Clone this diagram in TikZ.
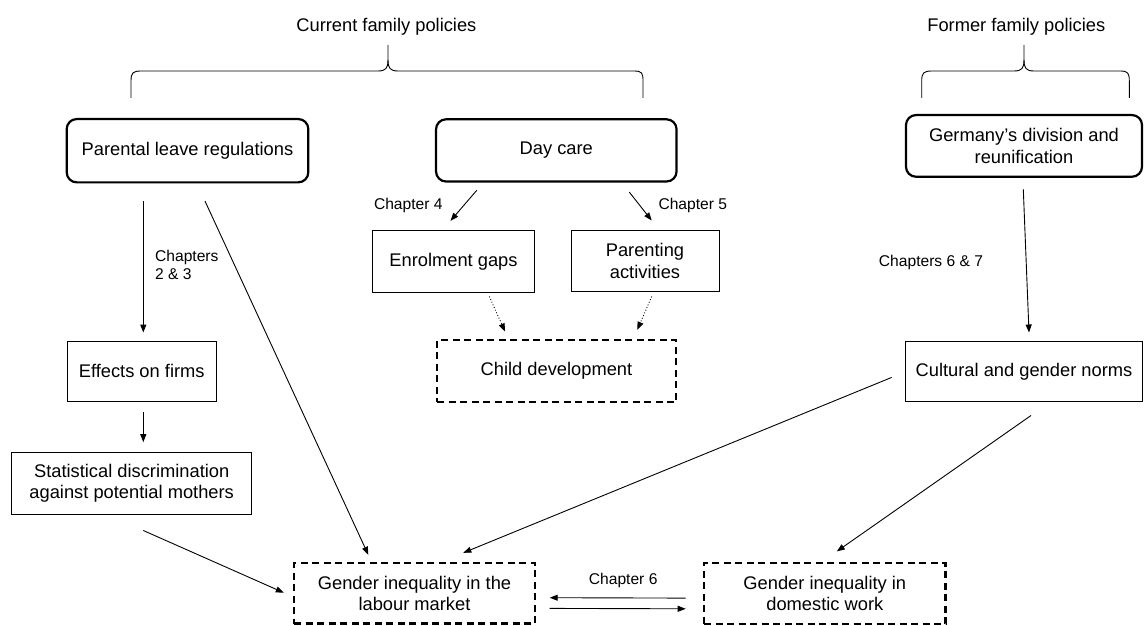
\documentclass[tikz,border=0pt]{standalone}
\usepackage{fontspec}
\setmainfont{Liberation Sans}
\usetikzlibrary{arrows.meta,calc}
\newcommand\mainfs{\fontsize{18.3}{21.5}\selectfont}
\newcommand\chapfs{\fontsize{15.6}{18}\selectfont}
\tikzset{
  base/.style={align=center, font=\mainfs, inner sep=0pt, text=black},
  rbox/.style={base, draw, line width=2.2pt, rounded corners=10pt},
  pbox/.style={base, draw, line width=1pt},
  dbox/.style={base, draw, line width=2.4pt, dash pattern=on 7pt off 4.5pt},
  arr/.style={line width=0.9pt, -{Triangle[length=8pt,width=6pt]}},
  darr/.style={arr, dotted},
  lbl/.style={font=\chapfs, inner sep=0pt, text=black},
  hdr/.style={font=\mainfs, inner sep=0pt, text=black},
  bracel/.style={line width=0.9pt}
}
\begin{document}
\begin{tikzpicture}[x=1pt,y=-1pt]
\useasboundingbox (0,0) rectangle (1144,626);

% headers
\node[hdr] (cur) at (386.4,26.5) {Current family policies};
\node[hdr] (for) at (1016.3,26.5) {Former family policies};

% braces
\draw[bracel] (131,98) -- (131,81) .. controls (131,73) and (133,71) .. (141,71) -- (378,71)
  .. controls (386,71) and (388,68) .. (388,60) -- (388,45);
\draw[bracel] (388,60) .. controls (388,68) and (390,71) .. (398,71) -- (634,71)
  .. controls (642,71) and (643,73) .. (643,81) -- (643,98);
\draw[bracel] (921.7,98) -- (921.7,81) .. controls (921.7,73) and (923.7,71) .. (931.7,71) -- (1014,71)
  .. controls (1022,71) and (1024,68) .. (1024,60) -- (1024,45);
\draw[bracel] (1024,60) .. controls (1024,68) and (1026,71) .. (1034,71) -- (1120,71)
  .. controls (1128,71) and (1129.3,73) .. (1129.3,81) -- (1129.3,98);

% nodes
\node[rbox, minimum width=241.6pt, minimum height=63.3pt] (plr) at (187.5,150.7) {Parental leave regulations};
\node[rbox, minimum width=240.5pt, minimum height=62.2pt] (day) at (556.3,150.4) {Day care};
\node[rbox, minimum width=236pt, minimum height=61.7pt] (ger) at (1024,145.9) {Germany’s division and\\reunification};
\node[pbox, minimum width=161.6pt, minimum height=62.7pt] (enr) at (453.5,261.4) {Enrolment gaps};
\node[pbox, minimum width=148pt, minimum height=61.7pt] (par) at (645,260.9) {Parenting\\activities};
\node[dbox, minimum width=239pt, minimum height=62pt] (chd) at (556.5,371) {Child development};
\node[pbox, minimum width=148.7pt, minimum height=60.7pt] (eff) at (141.7,371.4) {Effects on firms};
\node[pbox, minimum width=240pt, minimum height=61.6pt] (sta) at (131.7,483.5) {Statistical discrimination\\against potential mothers};
\node[pbox, minimum width=237pt, minimum height=60pt] (cul) at (1024,371.7) {Cultural and gender norms};
\node[dbox, minimum width=241pt, minimum height=60.5pt] (lm) at (414.5,593.4) {Gender inequality in the\\labour market};
\node[dbox, minimum width=241.6pt, minimum height=61pt] (dom) at (824.8,593.4) {Gender inequality in\\domestic work};

% labels
\node[lbl, align=left, anchor=west] (c23) at (155,265) {Chapters\\2 \& 3};
\node[lbl] (c4) at (408.3,205) {Chapter 4};
\node[lbl, anchor=west] (c5) at (658.3,205) {Chapter 5};
\node[lbl] (c67) at (931,262) {Chapters 6 \& 7};
\node[lbl] (c6) at (623.2,580.7) {Chapter 6};

% connectors
\draw[arr] ([xshift=-44.2pt,yshift=-17.65pt]plr.south) -- ([xshift=1.6pt,yshift=8pt]eff.north);
\draw[arr] ([xshift=17.5pt,yshift=-17.65pt]plr.south) -- ([xshift=-46.2pt,yshift=7.15pt]lm.north);
\draw[arr] ([xshift=1.6pt,yshift=-9.95pt]eff.south) -- ([xshift=11.6pt,yshift=10pt]sta.north);
\draw[arr] ([xshift=11.6pt,yshift=-15.7pt]sta.south) -- ([xshift=-9pt,yshift=0.7pt]lm.west);
\draw[arr] ([xshift=-79.6pt,yshift=-7.8pt]day.south) -- ([xshift=-3pt,yshift=8.75pt]enr.north);
\draw[arr] ([xshift=73pt,yshift=-9.5pt]day.south) -- ([xshift=6.7pt,yshift=9.05pt]par.north);
\draw[darr] ([xshift=35.8pt,yshift=-3.25pt]enr.south) -- ([xshift=-51.5pt,yshift=7.3pt]chd.north);
\draw[darr] ([xshift=6.7pt,yshift=-4.25pt]par.south) -- ([xshift=80.8pt,yshift=9pt]chd.north);
\draw[arr] ([xshift=-0.7pt,yshift=-11.55pt]ger.south) -- ([xshift=5pt,yshift=8.7pt]cul.north);
\draw[arr] ([xshift=-13.3pt,yshift=-5.7pt]cul.west) -- ([xshift=48.8pt,yshift=9.15pt]lm.north);
\draw[arr] ([xshift=7pt,yshift=-13.3pt]cul.south) -- ([xshift=12pt,yshift=10.3pt]dom.north);
\draw[arr] ([xshift=-17.1pt,yshift=-4.7pt]dom.west) -- ([xshift=13.5pt,yshift=-4.3pt]lm.east);
\draw[arr] ([xshift=13.5pt,yshift=-15pt]lm.east) -- ([xshift=-17.1pt,yshift=-15.4pt]dom.west);
\end{tikzpicture}
\end{document}
